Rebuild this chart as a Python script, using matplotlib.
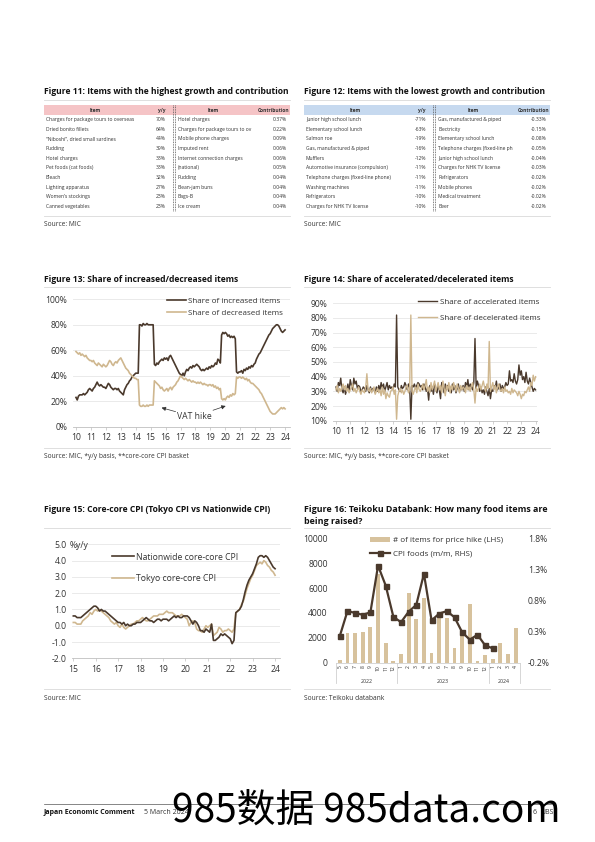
import numpy as np
import matplotlib.pyplot as plt
from matplotlib.patches import Rectangle
from matplotlib.lines import Line2D

plt.rcParams['font.family'] = ['Open Sans', 'DejaVu Sans']

W, H = 595, 842
DARK = '#4a392c'
TAN = '#cfb78f'
BAR = '#d7c29d'
GRID = '#e6e6e6'
TXT = '#333333'

# ---------------- data ----------------
hi_growth_items = ['Charges for package tours to overseas', 'Dried bonito fillets',
                   '\u201cNiboshi\u201d, dried small sardines', 'Pudding', 'Hotel charges',
                   'Pet foods (cat foods)', 'Bleach', 'Lighting apparatus',
                   'Women\u2019s stockings', 'Canned vegetables']
hi_growth_yy = ['70%', '64%', '44%', '39%', '33%', '33%', '32%', '27%', '23%', '23%']
hi_contrib_items = ['Hotel charges', 'Charges for package tours to ov', 'Mobile phone charges',
                    'Imputed rent', 'Internet connection charges', '(national)', 'Pudding',
                    'Bean-jam buns', 'Bags-B', 'Ice cream']
hi_contrib_vals = ['0.37%', '0.22%', '0.09%', '0.06%', '0.06%', '0.05%', '0.04%', '0.04%',
                   '0.04%', '0.04%']

lo_growth_items = ['Junior high school lunch', 'Elementary school lunch', 'Salmon roe',
                   'Gas, manufactured & piped', 'Mufflers', 'Automotive insurance (compulsion)',
                   'Telephone charges (fixed-line phone)', 'Washing machines', 'Refrigerators',
                   'Charges for NHK TV license']
lo_growth_yy = ['-71%', '-63%', '-19%', '-16%', '-12%', '-11%', '-11%', '-11%', '-10%', '-10%']
lo_contrib_items = ['Gas, manufactured & piped', 'Electricity', 'Elementary school lunch',
                    'Telephone charges (fixed-line ph', 'Junior high school lunch',
                    'Charges for NHK TV license', 'Refrigerators', 'Mobile phones',
                    'Medical treatment', 'Beer']
lo_contrib_vals = ['-0.33%', '-0.15%', '-0.08%', '-0.05%', '-0.04%', '-0.03%', '-0.02%',
                   '-0.02%', '-0.02%', '-0.02%']

# Figure 13: monthly, Jan 2010 - Jan 2024 (%)
share_increased = [
    23, 21, 24, 25, 25, 25, 26, 25, 26, 27, 29, 30,
    29, 28, 30, 31, 33, 35, 33, 32, 33, 32, 31, 31,
    30, 32, 34, 33, 31, 30, 29, 30, 30, 29, 30, 28,
    27, 26, 25, 29, 31, 33, 34, 36, 37, 39, 40, 41,
    42, 42, 42, 80, 80, 79, 81, 80, 80, 81, 80, 80,
    80, 80, 80, 49, 48, 50, 49, 51, 52, 53, 52, 54,
    53, 54, 52, 55, 56, 54, 52, 50, 48, 46, 44, 42,
    41, 40, 42, 40, 43, 45, 44, 46, 47, 46, 48, 47,
    48, 49, 48, 47, 45, 44, 45, 44, 45, 46, 45, 47,
    46, 48, 47, 48, 50, 49, 53, 52, 50, 72, 74, 73,
    74, 73, 71, 72, 70, 71, 70, 71, 69, 43, 42, 43,
    43, 44, 42, 45, 44, 46, 45, 47, 46, 48, 47, 49,
    50, 53, 55, 57, 58, 60, 62, 64, 66, 68, 70, 72,
    73, 75, 77, 78, 79, 80, 80, 79, 77, 75, 74, 75,
    76]
share_decreased = [
    59, 58, 57, 58, 56, 57, 56, 55, 56, 54, 53, 52,
    52, 51, 52, 50, 49, 48, 50, 49, 48, 47, 49, 48,
    47, 48, 50, 52, 51, 49, 48, 50, 51, 50, 52, 53,
    54, 52, 50, 48, 46, 45, 44, 42, 41, 40, 39, 38,
    38, 37, 37, 17, 16, 16, 17, 16, 16, 17, 16, 17,
    17, 17, 17, 36, 35, 34, 33, 32, 30, 31, 29, 28,
    29, 30, 28, 30, 31, 29, 31, 32, 33, 35, 36, 38,
    40, 39, 38, 37, 38, 37, 36, 37, 36, 35, 36, 35,
    35, 34, 35, 34, 35, 34, 33, 34, 33, 33, 32, 33,
    33, 32, 33, 31, 32, 30, 31, 29, 30, 22, 21, 22,
    21, 23, 24, 23, 25, 24, 26, 25, 26, 39, 38, 39,
    39, 38, 39, 38, 37, 38, 36, 37, 35, 34, 34, 33,
    32, 31, 30, 29, 27, 26, 24, 22, 20, 18, 16, 14,
    12, 11, 10, 10, 10, 11, 12, 13, 14, 15, 14, 15,
    14]

# Figure 14: monthly, Jan 2010 - Jan 2024 (%)
share_accelerated = [
    33, 30, 36, 34, 39, 31, 29, 33, 28, 31, 35, 30,
    38, 34, 31, 39, 35, 37, 32, 34, 33, 30, 31, 33,
    32, 30, 34, 31, 29, 33, 30, 32, 31, 29, 33, 30,
    34, 31, 36, 32, 35, 30, 33, 36, 31, 34, 32, 33,
    31, 35, 33, 82, 33, 31, 30, 34, 32, 33, 36, 34,
    31, 35, 33, 11, 34, 33, 35, 32, 34, 36, 35, 33,
    34, 31, 35, 33, 30, 32, 24, 34, 30, 33, 28, 35,
    32, 29, 34, 31, 25, 36, 33, 29, 35, 31, 34, 30,
    33, 29, 35, 31, 34, 29, 32, 35, 30, 33, 31, 34,
    30, 36, 33, 38, 31, 35, 33, 31, 36, 66, 32, 37,
    34, 30, 33, 29, 31, 28, 33, 30, 27, 32, 25, 31,
    30, 34, 32, 37, 31, 33, 35, 30, 34, 32, 33, 36,
    34, 35, 44, 37, 38, 36, 42, 37, 35, 38, 48, 41,
    44, 38, 40, 36, 43, 37, 35, 39, 36, 33, 30, 32,
    31]
share_decelerated = [
    31, 34, 29, 32, 30, 33, 35, 31, 34, 30, 32, 29,
    31, 33, 35, 30, 32, 29, 31, 33, 30, 28, 31, 30,
    29, 33, 42, 31, 30, 32, 29, 31, 33, 28, 30, 32,
    29, 31, 27, 33, 28, 31, 25, 29, 27, 26, 30, 31,
    33, 28, 31, 11, 27, 30, 32, 29, 31, 28, 30, 33,
    34, 29, 31, 82, 30, 28, 31, 33, 29, 35, 31, 30,
    32, 35, 31, 34, 38, 30, 33, 29, 36, 31, 34, 37,
    30, 33, 36, 31, 34, 29, 37, 32, 27, 34, 31, 36,
    29, 34, 31, 36, 33, 30, 35, 32, 29, 34, 31, 33,
    32, 29, 34, 31, 33, 30, 34, 36, 31, 22, 33, 30,
    32, 35, 31, 34, 37, 33, 30, 35, 32, 64, 30, 33,
    36, 31, 34, 29, 33, 35, 31, 30, 32, 29, 33, 30,
    31, 29, 30, 28, 32, 29, 31, 30, 29, 27, 30, 28,
    25, 28, 27, 30, 29, 31, 33, 30, 36, 34, 41, 37,
    40]

# Figure 15: monthly, Jan 2015 - Jan 2024 (% y/y)
nationwide_cc = [
    0.6, 0.6, 0.5, 0.5, 0.5, 0.6, 0.7, 0.8, 0.9, 1.0, 1.1, 1.2,
    1.2, 1.1, 0.9, 1.0, 0.9, 0.9, 0.8, 0.7, 0.6, 0.5, 0.4, 0.3,
    0.2, 0.2, 0.1, 0.2, 0.0, 0.1, 0.0, 0.0, 0.1, 0.1, 0.2, 0.2,
    0.2, 0.3, 0.4, 0.5, 0.4, 0.3, 0.3, 0.2, 0.3, 0.4, 0.4, 0.3,
    0.4, 0.4, 0.4, 0.3, 0.4, 0.5, 0.6, 0.5, 0.6, 0.5, 0.5, 0.6,
    0.6, 0.6, 0.5, 0.3, 0.1, 0.3, 0.2, 0.0, -0.3, -0.3, -0.4, -0.2,
    -0.3, -0.4, 0.1, -0.9, -0.9, -0.8, -0.7, -0.5, -0.6, -0.5, -0.6, -0.7,
    -0.8, -1.1, -0.9, 0.8, 0.9, 1.0, 1.2, 1.6, 2.1, 2.5, 2.8, 3.0,
    3.2, 3.5, 3.8, 4.2, 4.3, 4.3, 4.2, 4.3, 4.2, 4.0, 3.8, 3.6,
    3.5]
tokyo_cc = [
    0.2, 0.2, 0.1, 0.1, 0.1, 0.3, 0.4, 0.5, 0.6, 0.8, 0.7, 0.9,
    1.0, 0.9, 1.0, 0.9, 0.8, 0.7, 0.6, 0.5, 0.3, 0.2, 0.1, 0.2,
    0.0, -0.1, 0.1, -0.1, -0.2, -0.1, 0.0, 0.1, 0.1, 0.2, 0.3, 0.3,
    0.4, 0.5, 0.4, 0.3, 0.3, 0.4, 0.5, 0.6, 0.6, 0.6, 0.7, 0.7,
    0.7, 0.8, 0.9, 0.8, 0.8, 0.8, 0.7, 0.6, 0.6, 0.6, 0.7, 0.6,
    0.5, 0.4, 0.0, 0.2, 0.3, 0.2, -0.2, -0.3, -0.3, -0.4, -0.2, 0.0,
    -0.1, 0.0, 0.1, -0.6, -0.5, -0.4, -0.1, -0.2, -0.4, -0.3, -0.3, -0.2,
    -0.3, -0.4, -0.2, 0.8, 0.9, 1.0, 1.3, 1.5, 1.9, 2.3, 2.6, 2.9,
    3.1, 3.4, 3.7, 3.8, 3.9, 3.8, 4.0, 3.9, 3.7, 3.6, 3.4, 3.3,
    3.1]

# Figure 16: May 2022 - Apr 2024
month_labels = ['5', '6', '7', '8', '9', '10', '11', '12',
                '1', '2', '3', '4', '5', '6', '7', '8', '9', '10', '11', '12',
                '1', '2', '3', '4']
year_groups = [('2022', 8), ('2023', 12), ('2024', 4)]
price_hike_items = [200, 2360, 2410, 2490, 2840, 7100, 1560, 160,
                    700, 5580, 3490, 5200, 800, 3650, 3570, 1180, 2150, 4750, 110, 640,
                    300, 1610, 700, 2790]
cpi_foods_mm = [0.23, 0.63, 0.60, 0.57, 0.61, 1.36, 1.04, 0.54,
                0.45, 0.62, 0.73, 1.23, 0.48, 0.59, 0.63, 0.53, 0.29, 0.17, 0.25, 0.08,
                0.03]


# ---------------- helpers ----------------
def fx(x):
    return x / W


def fy(y):
    return 1 - y / H


def add_axes_px(fig, left, top, right, bottom):
    return fig.add_axes([fx(left), fy(bottom), (right - left) / W, (bottom - top) / H])


def hline(fig, x0, x1, y, color='#d9d9d9', lw=0.6):
    fig.add_artist(Line2D([fx(x0), fx(x1)], [fy(y), fy(y)], color=color, lw=lw))


def draw_table(fig, x0, head_color, l_items, l_vals, r_items, r_vals):
    fig.add_artist(Rectangle((fx(x0), fy(115)), 246 / W, 10 / H, color=head_color, lw=0))
    hs = 3.5
    fig.text(fx(x0 + 51), fy(110.3), 'Item', ha='center', va='center', fontsize=hs,
             fontweight='bold', color=TXT)
    fig.text(fx(x0 + 122), fy(110.3), 'y/y', ha='right', va='center', fontsize=hs,
             fontweight='bold', color=TXT)
    fig.text(fx(x0 + 169), fy(110.3), 'Item', ha='center', va='center', fontsize=hs,
             fontweight='bold', color=TXT)
    fig.text(fx(x0 + 245), fy(110.3), 'Contribution', ha='right', va='center', fontsize=hs,
             fontweight='bold', color=TXT)
    for dx in (128.5, 131):
        fig.add_artist(Line2D([fx(x0 + dx), fx(x0 + dx)], [fy(105), fy(211)],
                              color='#555555', lw=0.6, ls=(0, (1, 1))))
    fs = 3.6
    for i in range(len(l_items)):
        y = 119.5 + 9.65 * i
        fig.text(fx(x0 + 2), fy(y), l_items[i], ha='left', va='center', fontsize=fs, color=TXT)
        fig.text(fx(x0 + 122), fy(y), l_vals[i], ha='right', va='center', fontsize=fs, color=TXT)
        fig.text(fx(x0 + 134), fy(y), r_items[i], ha='left', va='center', fontsize=fs, color=TXT)
        fig.text(fx(x0 + 243), fy(y), r_vals[i], ha='right', va='center', fontsize=fs, color=TXT)
    hline(fig, x0, x0 + 246, 216)


def style_line_axes(ax):
    for s in ('top', 'right', 'left'):
        ax.spines[s].set_visible(False)
    ax.spines['bottom'].set_color('#bfbfbf')
    ax.spines['bottom'].set_linewidth(0.6)
    ax.yaxis.grid(True, color=GRID, lw=0.6)
    ax.set_axisbelow(True)
    ax.tick_params(axis='y', length=0, labelsize=6.2, colors=TXT, pad=4)
    ax.tick_params(axis='x', length=2, width=0.5, color='#bfbfbf', labelsize=6.2,
                   labelcolor=TXT, pad=2.5)


fig = plt.figure(figsize=(W / 100, H / 100), dpi=100)
TS = 6.1

# ---------------- Figures 11 / 12: tables ----------------
fig.text(fx(44), fy(91.5), 'Figure 11: Items with the highest growth and contribution',
         fontsize=TS, fontweight='bold', va='center', color='#111111')
hline(fig, 44, 290, 99.5)
draw_table(fig, 44, '#f5c4c6', hi_growth_items, hi_growth_yy, hi_contrib_items, hi_contrib_vals)
fig.text(fx(44), fy(225), 'Source: MIC', fontsize=4.8, va='center', color=TXT)

fig.text(fx(304), fy(91.5), 'Figure 12: Items with the lowest growth and contribution',
         fontsize=TS, fontweight='bold', va='center', color='#111111')
hline(fig, 304, 550, 99.5)
draw_table(fig, 304, '#c6d9ef', lo_growth_items, lo_growth_yy, lo_contrib_items, lo_contrib_vals)
fig.text(fx(304), fy(225), 'Source: MIC', fontsize=4.8, va='center', color=TXT)

# ---------------- Figure 13 ----------------
fig.text(fx(44), fy(280), 'Figure 13: Share of increased/decreased items',
         fontsize=TS, fontweight='bold', va='center', color='#111111')
hline(fig, 44, 290, 287)
ax13 = add_axes_px(fig, 73, 299.3, 290, 426.7)
t13 = 2010 + np.arange(len(share_increased)) / 12
ax13.plot(t13, share_increased, color=DARK, lw=1.2, label='Share of increased items')
ax13.plot(t13, share_decreased, color=TAN, lw=1.2, label='Share of decreased items')
ax13.set_ylim(0, 100)
ax13.set_xlim(2009.8, 2024.33)
ax13.set_yticks(range(0, 101, 20))
ax13.set_yticklabels([f'{v}%' for v in range(0, 101, 20)])
ax13.set_xticks(range(2010, 2025))
ax13.set_xticklabels([f'{y % 100}' for y in range(2010, 2025)])
style_line_axes(ax13)
ax13.legend(loc='upper left', bbox_to_anchor=(fx(167), fy(297.5)), bbox_transform=fig.transFigure,
            frameon=False, fontsize=5.8, handlelength=2.3, handletextpad=0.35,
            labelspacing=0.5, borderpad=0, borderaxespad=0, labelcolor=TXT)
ax13.annotate('', xy=(2015.55, 15.5), xytext=(2016.85, 11.2),
              arrowprops=dict(arrowstyle='-|>', color='#333333', lw=0.5, mutation_scale=6))
ax13.annotate('', xy=(2020.2, 17), xytext=(2019.0, 12.2),
              arrowprops=dict(arrowstyle='-|>', color='#333333', lw=0.5, mutation_scale=6))
ax13.text(2017.95, 8.3, 'VAT hike', ha='center', va='center', fontsize=6.2, color=TXT)
hline(fig, 44, 290, 448)
fig.text(fx(44), fy(456), 'Source: MIC, *y/y basis, **core-core CPI basket', fontsize=4.8,
         va='center', color=TXT)

# ---------------- Figure 14 ----------------
fig.text(fx(304), fy(280), 'Figure 14: Share of accelerated/decelerated items',
         fontsize=TS, fontweight='bold', va='center', color='#111111')
hline(fig, 304, 550, 287)
ax14 = add_axes_px(fig, 333, 303.3, 537, 420.7)
t14 = 2010 + np.arange(len(share_accelerated)) / 12
ax14.plot(t14, share_accelerated, color=DARK, lw=1.0, label='Share of accelerated items')
ax14.plot(t14, share_decelerated, color=TAN, lw=1.0, label='Share of decelerated items')
ax14.set_ylim(10, 90)
ax14.set_xlim(2009.79, 2024.1)
ax14.set_yticks(range(10, 91, 10))
ax14.set_yticklabels([f'{v}%' for v in range(10, 91, 10)])
ax14.set_xticks(range(2010, 2025))
ax14.set_xticklabels([f'{y % 100}' for y in range(2010, 2025)])
style_line_axes(ax14)
ax14.legend(loc='upper left', bbox_to_anchor=(fx(418), fy(298.5)), bbox_transform=fig.transFigure,
            frameon=False, fontsize=5.8, handlelength=2.3, handletextpad=0.45,
            labelspacing=1.0, borderpad=0, borderaxespad=0, labelcolor=TXT)
hline(fig, 304, 550, 448)
fig.text(fx(304), fy(456), 'Source: MIC, *y/y basis, **core-core CPI basket', fontsize=4.8,
         va='center', color=TXT)

# ---------------- Figure 15 ----------------
fig.text(fx(44), fy(510), 'Figure 15: Core-core CPI (Tokyo CPI vs Nationwide CPI)',
         fontsize=TS, fontweight='bold', va='center', color='#111111')
hline(fig, 44, 290, 528)
ax15 = add_axes_px(fig, 72, 544.3, 280, 658.3)
t15 = 2015 + np.arange(len(nationwide_cc)) / 12
ax15.plot(t15, tokyo_cc, color=TAN, lw=1.2, label='Tokyo core-core CPI')
ax15.plot(t15, nationwide_cc, color=DARK, lw=1.2, label='Nationwide core-core CPI')
ax15.set_ylim(-2, 5)
ax15.set_xlim(2014.94, 2024.22)
ax15.set_yticks(range(-2, 6))
ax15.set_yticklabels([f'{v:.1f}' for v in range(-2, 6)])
ax15.set_xticks(range(2015, 2025))
ax15.set_xticklabels([f'{y % 100}' for y in range(2015, 2025)])
style_line_axes(ax15)
fig.text(fx(70), fy(545), '%y/y', fontsize=6.2, va='center', ha='left', color=TXT)
h, l = ax15.get_legend_handles_labels()
ax15.legend(h[::-1], l[::-1], loc='upper left', bbox_to_anchor=(fx(112), fy(552.5)),
            bbox_transform=fig.transFigure, frameon=False, fontsize=6.2, handlelength=2.5,
            handletextpad=0.25, labelspacing=1.5, borderpad=0, borderaxespad=0, labelcolor=TXT)
hline(fig, 44, 290, 689)
fig.text(fx(44), fy(698), 'Source: MIC', fontsize=4.8, va='center', color=TXT)

# ---------------- Figure 16 ----------------
fig.text(fx(304), fy(510), 'Figure 16: Teikoku Databank: How many food items are',
         fontsize=6.4, fontweight='bold', va='center', color='#111111')
fig.text(fx(304), fy(521), 'being raised?', fontsize=6.4, fontweight='bold', va='center',
         color='#111111')
hline(fig, 304, 550, 528)
ax16 = add_axes_px(fig, 336, 538.3, 519.5, 662.7)
xc = np.arange(len(price_hike_items))
ax16.bar(xc, price_hike_items, width=0.5, color=BAR, label='# of items for price hike (LHS)')
ax16.set_xlim(-0.5, len(xc) - 0.5)
ax16.set_ylim(0, 10000)
ax16.set_yticks(range(0, 10001, 2000))
ax16.set_xticks(xc)
ax16.set_xticklabels(month_labels, rotation=90, fontsize=3.6, color=TXT)
ax16.tick_params(axis='x', length=0, pad=1.5)
ax16.tick_params(axis='y', length=0, labelsize=6.2, colors=TXT, pad=6)
for s in ('top', 'right', 'left'):
    ax16.spines[s].set_visible(False)
ax16.spines['bottom'].set_color('#d0d0d0')
ax16.spines['bottom'].set_linewidth(0.6)

ax16r = ax16.twinx()
ax16r.plot(xc[:len(cpi_foods_mm)], cpi_foods_mm, color=DARK, lw=1.6, marker='s', ms=3.6,
           label='CPI foods (m/m, RHS)')
ax16r.set_ylim(-0.2, 1.8)
ax16r.set_yticks([-0.2, 0.3, 0.8, 1.3, 1.8])
ax16r.set_yticklabels([f'{v:.1f}%' for v in [-0.2, 0.3, 0.8, 1.3, 1.8]])
ax16r.tick_params(axis='y', length=0, labelsize=6.2, colors=TXT, pad=6)
for s in ('top', 'right', 'left', 'bottom'):
    ax16r.spines[s].set_visible(False)

# multi-level category axis: year labels and separators
start = 0
bounds = [-0.5]
for yr, n in year_groups:
    ax16.text(start + (n - 1) / 2, -1500, yr, ha='center', va='center', fontsize=3.8,
              color=TXT, clip_on=False)
    start += n
    bounds.append(start - 0.5)
for b in bounds:
    ax16.plot([b, b], [0, -1650], color='#d0d0d0', lw=0.6, clip_on=False)

h1, l1 = ax16.get_legend_handles_labels()
h2, l2 = ax16r.get_legend_handles_labels()
ax16.legend(h1 + h2, l1 + l2, loc='upper left', bbox_to_anchor=(fx(370), fy(536.5)),
            bbox_transform=fig.transFigure, frameon=False, fontsize=5.8, handlelength=2.5,
            handletextpad=0.3, labelspacing=0.7, borderpad=0, borderaxespad=0, labelcolor=TXT)
hline(fig, 304, 550, 689)
fig.text(fx(304), fy(698), 'Source: Teikoku databank', fontsize=4.8, va='center', color=TXT)

# ---------------- footer ----------------
hline(fig, 44, 551, 804, color='#555555', lw=0.5)
fig.text(fx(44), fy(813), 'Japan Economic Comment', fontsize=5.0, fontweight='bold',
         va='center', color='#111111')
fig.text(fx(144), fy(813), '5 March 2024', fontsize=5.0, va='center', color=TXT)
fig.text(fx(537), fy(813), '6', fontsize=5.0, va='center', ha='right', color=TXT)
fig.text(fx(540), fy(813), 'UBS', fontsize=5.0, va='center', ha='left', color=TXT)
fig.text(fx(366), fy(812), '985数据 985data.com', fontsize=28, ha='center', va='center',
         color='black', family=['Noto Sans CJK SC', 'DejaVu Sans'])

fig.savefig('out.png', dpi=100)
